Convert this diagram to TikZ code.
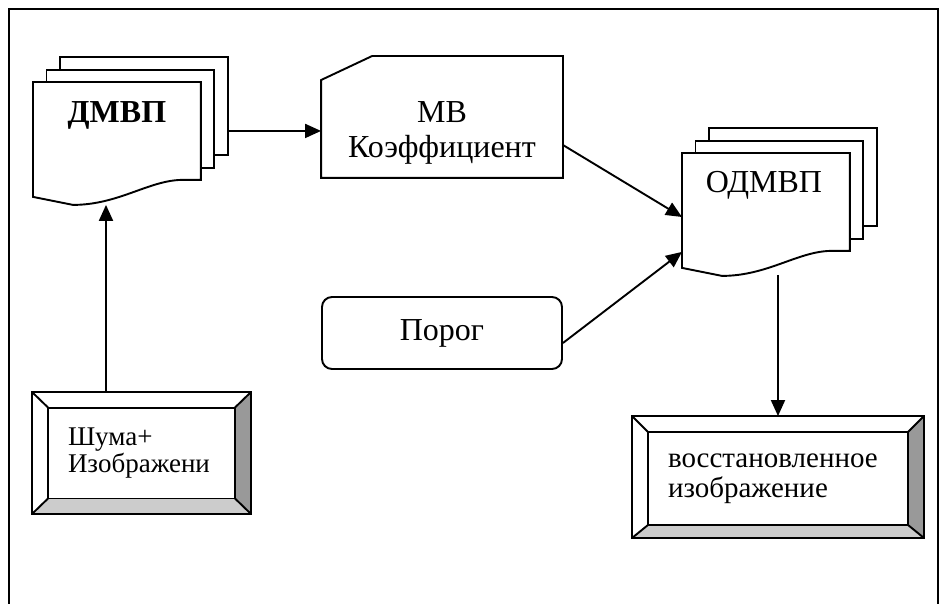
\documentclass[tikz,border=0pt]{standalone}
\usepackage{fontspec}
\setmainfont{Liberation Serif}
\usetikzlibrary{positioning,arrows.meta,calc,backgrounds}

\definecolor{bevdark}{gray}{0.6}
\definecolor{bevlight}{gray}{0.8}

% stacked document: two plain sheets behind, front sheet with a wavy bottom
\newcommand\docstack[1]{%
  \foreach \d in {2,1}
    \draw[sheet] ($(#1.north west)+(13.5*\d,-12.3*\d)$) rectangle ($(#1.south east)+(13.5*\d,-12.3*\d)$);
  \draw[sheet] (#1.south east) -- (#1.north east) -- (#1.north west) -- ($(#1.south west)+(0,17)$)
    -- ($(#1.south west)+(40,25)$) .. controls ($(#1.south west)+(85,25)$) and ($(#1.south west)+(115,1)$) .. ($(#1.south east)+(-20,0)$) -- cycle;
}
% bevelled frame between an outer and an inner node
\newcommand\bevel[2]{%
  \fill[bevlight] (#1.south west) -- (#1.south east) -- (#2.south east) -- (#2.south west) -- cycle;
  \fill[bevdark] (#1.south east) -- (#1.north east) -- (#2.north east) -- (#2.south east) -- cycle;
  \draw[sheet, fill=none] (#1.north west) -- (#2.north west) (#1.north east) -- (#2.north east)
        (#1.south west) -- (#2.south west) (#1.south east) -- (#2.south east);
  \draw[sheet, fill=none] (#1.north west) rectangle (#1.south east) (#2.north west) rectangle (#2.south east);
}

\begin{document}
\begin{tikzpicture}[
  x=1pt, y=-1pt, line width=1.9pt,
  big/.style={font=\fontsize{32}{35}\selectfont},
  small/.style={font=\fontsize{27}{27}\selectfont},
  mid/.style={font=\fontsize{29}{30}\selectfont},
  sheet/.style={draw, fill=white, line width=1.9pt},
  page/.style={minimum width=166pt, minimum height=96pt, inner sep=0pt, anchor=north west},
  card/.style={minimum width=240pt, minimum height=120pt, inner sep=0pt},
  term/.style={draw, rounded corners=10pt, minimum width=240pt, minimum height=72pt, inner sep=0pt},
  bevout/.style={inner sep=0pt, minimum height=120pt},
  bevin/.style={align=left, inner xsep=19pt, inner ysep=0pt},
  arr/.style={-{Triangle[length=16pt, width=14pt]}},
]
\useasboundingbox (0,0) rectangle (940,604);
\draw (9,604) -- (9,9) -- (938,9) -- (938,604);

% shapes
\node[page] (dmvp) at (33,82) {};
\node[page] (odmvp) at (682,153) {};
\node[card] (mb) at (442,117) {};
\node[term, big] (porog) at (442,333) {Порог};
\node[bevout, minimum width=217pt] (noise) at (141.5,453) {};
\node[bevin, small, text width=147pt, minimum height=89pt] (noisein) at (noise) {Шума+\\Изображени};
\node[bevout, minimum width=290pt] (rest) at (778,477) {};
\node[bevin, mid, text width=220pt, minimum height=91pt] (restin) at (778,478.5) {восстановленное\\изображение};

% texts on the sheets
\node[big, anchor=base] (dmvpT) at ($(dmvp.north)+(0,41)$) {\textbf{ДМВП}};
\node[big, align=center] (mbT) at ($(mb.center)+(0,15.5)$) {МВ\\Коэффициент};
\node[big, anchor=base] (odmvpT) at ($(odmvp.north)+(-2,40)$) {ОДМВП};

\begin{scope}[on background layer]
  \docstack{dmvp}
  \docstack{odmvp}
  \draw[sheet] (mb.south west) -- ($(mb.north west)+(0,24)$) -- ($(mb.north west)+(51,0)$)
    -- (mb.north east) -- (mb.south east) -- cycle;
  \bevel{noise}{noisein}
  \bevel{rest}{restin}
\end{scope}

% arrows
\draw[arr] ($(dmvp.east)+(27,0)$) -- (dmvp.east -| mb.west);
\draw[arr] ($(mb.east)+(0,28)$) -- ($(odmvp.north west)+(0,64)$);
\draw[arr] ($(porog.east)+(0,10)$) -- ($(odmvp.south west)+(0,1)$);
\coordinate (odout) at ($(odmvp.south -| rest.north)+(0,24)$);
\draw[arr] (odout) -- (rest.north);
\coordinate (dmin) at ($(dmvp.south west)+(73,25)$);
\draw[arr] (dmin |- noise.north) -- (dmin);
\end{tikzpicture}
\end{document}
